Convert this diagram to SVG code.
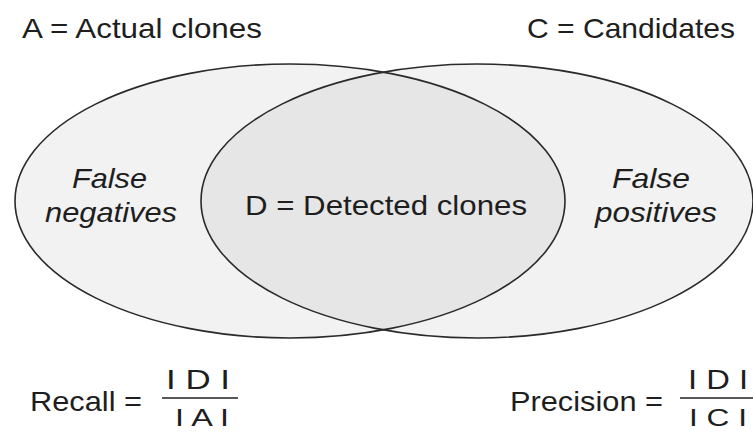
<svg xmlns="http://www.w3.org/2000/svg" width="753" height="432" viewBox="0 0 753 432">
  <style>
    text { font-family: "Liberation Sans", Arial, sans-serif; fill: #1e1e1e; font-size: 28px; }
    .it { font-style: italic; }
    .den { font-size: 23px; }
    .set { fill: #f2f2f2; }
    .rim { fill: none; stroke: #2a2a2a; stroke-width: 1.6; }
    .bar { stroke: #222; stroke-width: 1.6; }
  </style>
  <defs>
    <clipPath id="clipA">
      <ellipse cx="290" cy="201" rx="275" ry="137"/>
    </clipPath>
  </defs>

  <!-- set labels -->
  <text x="22" y="38" textLength="240" lengthAdjust="spacingAndGlyphs">A = Actual clones</text>
  <text x="527" y="38" textLength="208" lengthAdjust="spacingAndGlyphs">C = Candidates</text>

  <!-- set A: actual clones -->
  <g id="setA">
    <ellipse class="set" cx="290" cy="201" rx="275" ry="137"/>
  </g>
  <!-- set C: candidates -->
  <g id="setC">
    <ellipse class="set" cx="477" cy="201" rx="276" ry="137"/>
  </g>
  <!-- overlap D: detected clones -->
  <g id="setD">
    <ellipse cx="477" cy="201" rx="276" ry="137" fill="#e6e6e6" clip-path="url(#clipA)"/>
    <text x="245" y="215" textLength="282" lengthAdjust="spacingAndGlyphs">D = Detected clones</text>
  </g>
  <!-- outlines -->
  <g id="outlines">
    <ellipse class="rim" cx="290" cy="201" rx="275" ry="137"/>
    <ellipse class="rim" cx="477" cy="201" rx="276" ry="137"/>
  </g>

  <g id="falseNegatives">
    <text class="it" x="72" y="188" textLength="75" lengthAdjust="spacingAndGlyphs">False</text>
    <text class="it" x="45" y="222" textLength="132" lengthAdjust="spacingAndGlyphs">negatives</text>
  </g>
  <g id="falsePositives">
    <text class="it" x="612" y="188" textLength="78" lengthAdjust="spacingAndGlyphs">False</text>
    <text class="it" x="595" y="222" textLength="122" lengthAdjust="spacingAndGlyphs">positives</text>
  </g>

  <!-- recall formula -->
  <g id="recall">
    <text x="30" y="411" textLength="112" lengthAdjust="spacingAndGlyphs">Recall =</text>
    <text x="166" y="389" textLength="64" lengthAdjust="spacingAndGlyphs">I D I</text>
    <line class="bar" x1="162" y1="398" x2="238" y2="398"/>
    <text class="den" x="175" y="426" textLength="54" lengthAdjust="spacingAndGlyphs">I A I</text>
  </g>

  <!-- precision formula -->
  <g id="precision">
    <text x="510" y="411" textLength="153" lengthAdjust="spacingAndGlyphs">Precision =</text>
    <text x="688" y="389" textLength="60" lengthAdjust="spacingAndGlyphs">I D I</text>
    <line class="bar" x1="680" y1="398" x2="753" y2="398"/>
    <text class="den" x="689" y="426" textLength="58" lengthAdjust="spacingAndGlyphs">I C I</text>
  </g>
</svg>
